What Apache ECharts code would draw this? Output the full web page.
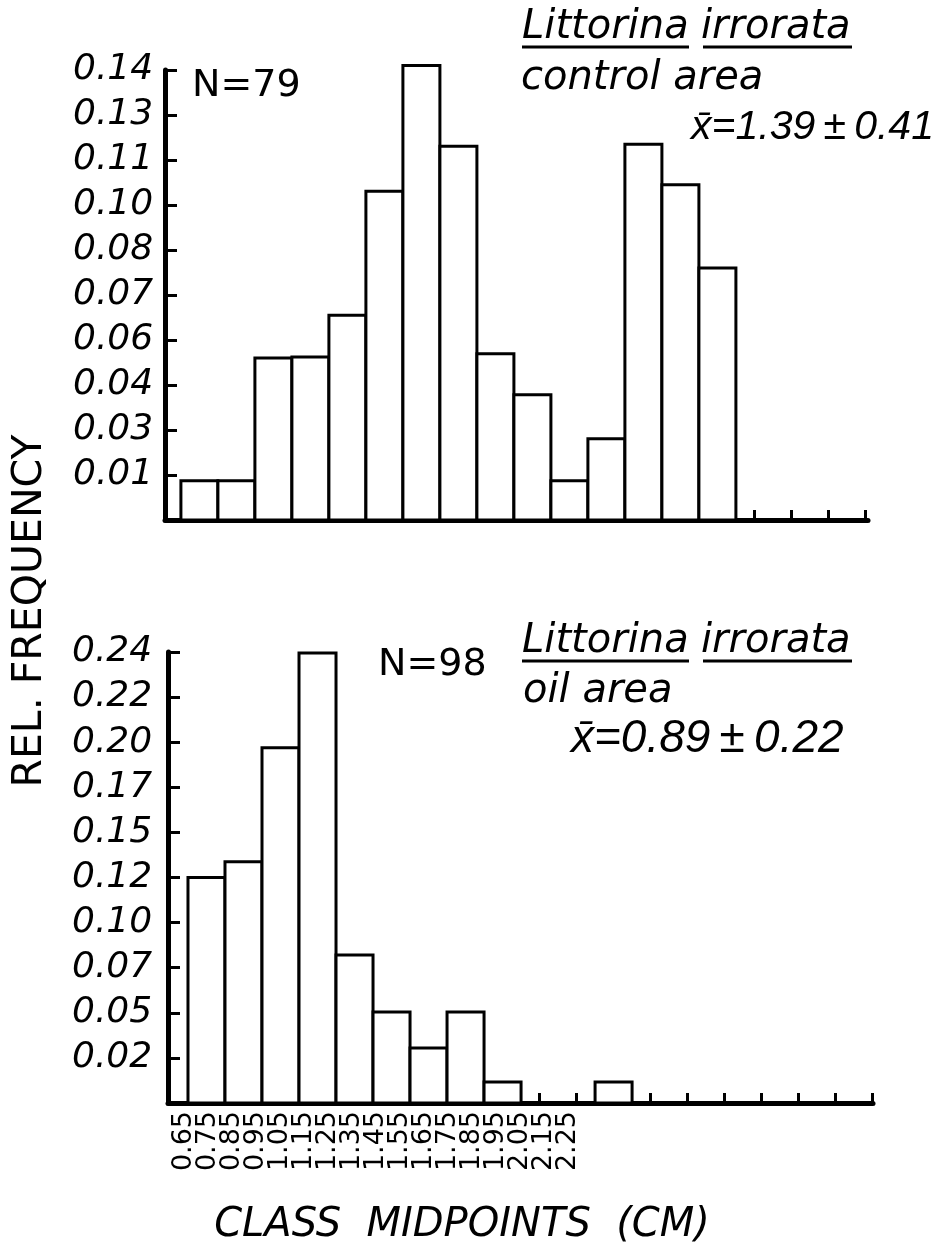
<!DOCTYPE html>
<html>
<head>
<meta charset="utf-8">
<script src="https://cdn.jsdelivr.net/npm/echarts@6/dist/echarts.min.js"></script>
<style>
html,body{margin:0;padding:0;background:#fff;}
#chart{width:935px;height:1259px;}
</style>
</head>
<body>
<div id="chart"></div>
<script>
// ---- data ----
const classWidth = 0.1;
const tickMidpoints = [0.65,0.75,0.85,0.95,1.05,1.15,1.25,1.35,1.45,1.55,1.65,1.75,1.85,1.95,2.05,2.15,2.25,2.35,2.45];
const xTickLabels = ['0.65','0.75','0.85','0.95','1.05','1.15','1.25','1.35','1.45','1.55','1.65','1.75','1.85','1.95','2.05','2.15','2.25'];

const controlClasses = [0.65,0.75,0.85,0.95,1.05,1.15,1.25,1.35,1.45,1.55,1.65,1.75,1.85,1.95,2.05];
const controlFreq    = [0.0124,0.0124,0.0511,0.0514,0.0646,0.1037,0.1434,0.1179,0.0525,0.0395,0.0124,0.0256,0.1186,0.1058,0.0795];

const oilClasses = [0.65,0.75,0.85,0.95,1.05,1.15,1.25,1.35,1.45,1.55,1.65,1.75];
const oilFreq    = [0.1225,0.131,0.193,0.2445,0.0804,0.0494,0.0299,0.0494,0.0114,0,0,0.0114];

const controlTickLabels = ['0.01','0.03','0.04','0.06','0.07','0.08','0.10','0.11','0.13','0.14'];
const oilTickLabels     = ['0.02','0.05','0.07','0.10','0.12','0.15','0.17','0.20','0.22','0.24'];
const controlStep = 0.0142;
const oilStep = 0.0245;

// ---- chart ----
const FONT = 'DejaVu Sans';
const FONT2 = 'Liberation Sans';
const chart = echarts.init(document.getElementById('chart'), null, {renderer:'canvas'});

function histItem(params, api){
  const x = api.value(0), v = api.value(1);
  if (!v) return null;
  const p0 = api.coord([x - classWidth/2, v]);
  const p1 = api.coord([x + classWidth/2, 0]);
  return {type:'rect', shape:{x:p0[0], y:p0[1], width:p1[0]-p0[0], height:p1[1]-p0[1]},
          style:{fill:'#fff', stroke:'#000', lineWidth:3}};
}
function zip(a,b){ return a.map((x,i)=>[x,b[i]]); }

function valueX(grid, min, max){
  return {type:'value', gridIndex:grid, min:min, max:max,
    axisLine:{show:true, onZero:false, lineStyle:{color:'#000', width:5}},
    axisTick:{show:true, inside:true, length:10, customValues:tickMidpoints, lineStyle:{color:'#000', width:3}},
    axisLabel:{show:false}, splitLine:{show:false}};
}
function valueY(grid, step, labels, margin){
  return {type:'value', gridIndex:grid, min:0, max:step*10, interval:step,
    axisLine:{show:true, onZero:false, lineStyle:{color:'#000', width:5}},
    axisTick:{show:true, inside:true, length:12, lineStyle:{color:'#000', width:3}},
    axisLabel:{show:true, align:'left', margin:margin, color:'#000', fontFamily:FONT, fontStyle:'italic', fontSize:36,
      formatter:function(v){ const k=Math.round(v/step); return k===0 ? '' : labels[k-1]; }},
    splitLine:{show:false}};
}

function txt(text, x, y, size, italic, fam){
  return {type:'text', z:10, style:{text:text, x:x, y:y, fill:'#000',
    font:(italic?'italic ':'')+size+'px "'+(fam||FONT)+'"', align:'left', verticalAlign:'middle'}};
}
function uline(x1,x2,y){
  return {type:'line', z:10, shape:{x1:x1,y1:y,x2:x2,y2:y}, style:{stroke:'#000', lineWidth:3}};
}

const option = {
  backgroundColor:'#fff',
  animation:false,
  grid:[
    {left:165, top:70, width:703, height:450},
    {left:168, top:652, width:705, height:451},
    {left:172, top:1100, width:408, height:3}
  ],
  xAxis:[
    valueX(0, 0.557, 2.457),
    valueX(1, 0.546, 2.451),
    {type:'category', gridIndex:2, data:xTickLabels, boundaryGap:true,
      axisLine:{show:false}, axisTick:{show:false},
      axisLabel:{show:true, rotate:90, margin:8, interval:0, color:'#000', fontFamily:FONT, fontSize:27}}
  ],
  yAxis:[
    valueY(0, controlStep, controlTickLabels, 92),
    valueY(1, oilStep, oilTickLabels, 96),
    {type:'value', gridIndex:2, show:false}
  ],
  series:[
    {type:'custom', name:'control area', xAxisIndex:0, yAxisIndex:0, clip:false,
      renderItem:histItem, encode:{x:0,y:1}, data:zip(controlClasses, controlFreq)},
    {type:'custom', name:'oil area', xAxisIndex:1, yAxisIndex:1, clip:false,
      renderItem:histItem, encode:{x:0,y:1}, data:zip(oilClasses, oilFreq)}
  ],
  graphic:[
    txt('N=79', 192, 86, 38, false),
    txt('Littorina', 522, 28, 40, true),
    txt('irrorata', 701, 28, 40, true),
    uline(522, 689, 47), uline(703, 852, 47),
    txt('control area', 521, 79, 40, true),
    txt('x\u0304=1.39\u2009\u00b1\u20090.41', 691, 128, 41, true, FONT2),

    txt('N=98', 378, 665, 38, false),
    txt('Littorina', 522, 642, 40, true),
    txt('irrorata', 701, 642, 40, true),
    uline(522, 689, 661), uline(703, 852, 661),
    txt('oil area', 523, 692, 40, true),
    txt('x\u0304=0.89\u2009\u00b1\u20090.22', 571, 739, 46, true, FONT2),

    {type:'text', z:10, x:30, y:611, rotation:Math.PI/2,
      style:{text:'REL. FREQUENCY', x:0, y:0, fill:'#000', font:'41px "'+FONT+'"', align:'center', verticalAlign:'middle'}},
    {type:'text', z:10, style:{text:'CLASS  MIDPOINTS  (CM)', x:462, y:1226, fill:'#000',
      font:'italic 40px "'+FONT+'"', align:'center', verticalAlign:'middle'}}
  ]
};
chart.setOption(option);
</script>
</body>
</html>
